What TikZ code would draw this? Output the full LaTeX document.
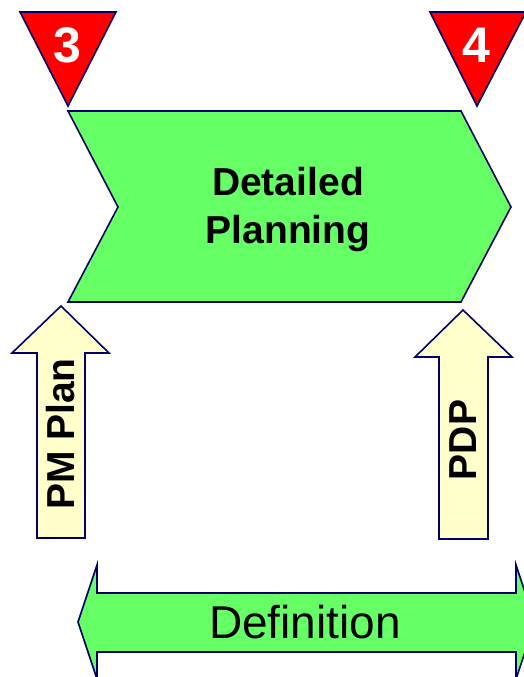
\documentclass[tikz,border=0pt]{standalone}
\usepackage{fontspec}
\setmainfont{Liberation Sans}
\definecolor{phasegreen}{HTML}{66FF66}
\definecolor{outlinenavy}{HTML}{000066}
\definecolor{milestonered}{HTML}{FF0000}
\definecolor{inputcream}{HTML}{FFFFCC}
\tikzset{
  shapeline/.style={draw=outlinenavy, line width=1.6pt, line join=miter},
  phase/.style={shapeline, fill=phasegreen},
  milestone/.style={shapeline, fill=milestonered},
  inputarrow/.style={shapeline, fill=inputcream},
  mslabel/.style={text=white, font=\bfseries\fontsize{50}{50}\selectfont, inner sep=0pt},
  inlabel/.style={font=\bfseries\fontsize{39}{39}\selectfont, inner sep=0pt, rotate=90},
}
\begin{document}
\begin{tikzpicture}[x=1pt, y=-1pt]
  \useasboundingbox (0,0) rectangle (524,677);
  \clip (0,0) rectangle (524,677);

  % milestone triangles
  \draw[milestone] (20,12) -- (116,12) -- (68,106) -- cycle;
  \node[mslabel] (m3) at (67,45) {3};
  \draw[milestone] (430,12) -- (526,12) -- (477,106) -- cycle;
  \node[mslabel] (m4) at (476,45) {4};

  % phase chevron
  \draw[phase] (68,111) -- (461,111) -- (511,207) -- (461,302) -- (68,302) -- (118,207) -- cycle;
  \node[align=center, font=\bfseries\fontsize{39}{48}\selectfont, inner sep=0pt] (plan) at (288,210) {Detailed\\Planning};

  % input arrows
  \draw[inputarrow] (61,306) -- (109,353) -- (85,353) -- (85,538) -- (37,538) -- (37,353) -- (12,353) -- cycle;
  \node[inlabel] (pm) at (61,434) {PM Plan};
  \draw[inputarrow] (463,310) -- (512,357) -- (488,357) -- (488,539) -- (439,539) -- (439,357) -- (415,357) -- cycle;
  \node[inlabel] (pdp) at (463,440) {PDP};

  % stage span arrow
  \draw[phase] (78,622) -- (97,565) -- (97,593) -- (516,593) -- (516,565) -- (535,622) -- (516,679) -- (516,652) -- (97,652) -- (97,679) -- cycle;
  \node[font=\fontsize{46}{46}\selectfont, inner sep=0pt] (def) at (305,622) {Definition};
\end{tikzpicture}
\end{document}
